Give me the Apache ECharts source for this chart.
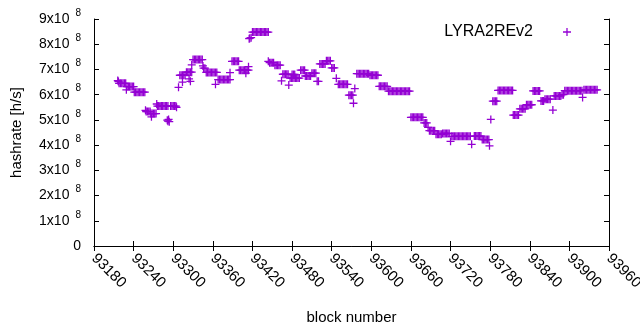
<!DOCTYPE html>
<html>
<head>
  <meta charset="UTF-8">
  <script src="https://cdn.jsdelivr.net/npm/echarts@6/dist/echarts.min.js"></script>
  <style>
    html, body { margin: 0; padding: 0; background: #fff; }
    #main { width: 640px; height: 330px; }
  </style>
</head>
<body>
  <div id="main"></div>
  <script>
    // axis ticks
    var blockTicks = { min: 93180, max: 93960, step: 60 };
    var rateTicks = [0, 1, 2, 3, 4, 5, 6, 7, 8, 9];   // in units of 10^8 h/s

    var seriesName = 'LYRA2REv2';

    // [block number, hashrate in 10^8 h/s]
    var samples = [
      [93216, 6.56], [93217, 6.52],
      [93218, 6.45], [93220, 6.45], [93222, 6.45], [93224, 6.45], [93226, 6.45], [93228, 6.45],
      [93229, 6.19],
      [93230, 6.32], [93232, 6.32], [93234, 6.32], [93236, 6.32], [93238, 6.32], [93240, 6.32],
      [93241, 6.1], [93243, 6.1], [93245, 6.1], [93247, 6.1], [93249, 6.1], [93251, 6.1], [93253, 6.1], [93255, 6.1], [93257, 6.1],
      [93258, 5.38], [93259, 5.33], [93261, 5.33], [93263, 5.33], [93265, 5.33],
      [93266, 5.25], [93267, 5.12], [93268, 5.25], [93270, 5.25], [93272, 5.25], [93274, 5.25],
      [93275, 5.63], [93276, 5.55], [93278, 5.55], [93280, 5.55], [93282, 5.55], [93284, 5.55], [93286, 5.55], [93288, 5.55], [93290, 5.55], [93292, 5.55],
      [93291, 4.99], [93292, 4.95], [93293, 5.02], [93294, 4.93],
      [93296, 5.55], [93298, 5.55], [93300, 5.55], [93302, 5.55], [93304, 5.55], [93305, 5.5],
      [93308, 6.29],
      [93310, 6.77], [93312, 6.77], [93314, 6.77], [93316, 6.77], [93318, 6.77], [93314, 6.5],
      [93320, 6.89], [93322, 6.89], [93324, 6.89], [93326, 6.89], [93328, 6.89],
      [93324, 6.63], [93326, 6.53], [93328, 7.18],
      [93330, 7.39], [93332, 7.39], [93334, 7.39], [93336, 7.39], [93338, 7.39], [93340, 7.39], [93342, 7.39], [93344, 7.39],
      [93345, 7.14], [93346, 7.05], [93348, 7.05],
      [93350, 6.88], [93352, 6.88], [93354, 6.88], [93356, 6.88], [93358, 6.88], [93360, 6.88], [93362, 6.88], [93364, 6.88], [93366, 6.88],
      [93364, 6.41],
      [93368, 6.6], [93370, 6.6], [93372, 6.6], [93374, 6.6], [93376, 6.6], [93378, 6.6], [93380, 6.6], [93382, 6.6], [93384, 6.6], [93386, 6.6],
      [93386, 6.87],
      [93389, 7.32], [93391, 7.32], [93393, 7.32], [93395, 7.32], [93397, 7.32], [93399, 7.32],
      [93400, 6.97], [93402, 6.97], [93404, 6.97], [93406, 6.97], [93408, 6.97], [93410, 6.97], [93412, 6.97], [93414, 6.97],
      [93410, 6.85], [93414, 7.11],
      [93415, 8.22], [93416, 8.24], [93418, 8.26],
      [93420, 8.48], [93422, 8.48], [93424, 8.48], [93426, 8.48], [93428, 8.48], [93430, 8.48], [93432, 8.48], [93434, 8.48], [93436, 8.48], [93438, 8.48], [93440, 8.48], [93442, 8.48], [93444, 8.48],
      [93444, 7.32], [93446, 7.27], [93448, 7.27], [93450, 7.27], [93452, 7.27],
      [93454, 7.17], [93456, 7.17], [93458, 7.17], [93460, 7.17], [93462, 7.17],
      [93464, 6.55],
      [93466, 6.81], [93468, 6.81], [93470, 6.81], [93472, 6.81], [93474, 6.81], [93475, 6.38],
      [93477, 6.66], [93479, 6.66], [93481, 6.66], [93483, 6.66], [93485, 6.66], [93487, 6.66], [93489, 6.66], [93491, 6.66],
      [93480, 6.8], [93482, 6.8], [93484, 6.8],
      [93493, 6.97], [93495, 6.97], [93497, 6.97], [93499, 6.97],
      [93500, 6.74], [93502, 6.74], [93504, 6.74], [93506, 6.74], [93508, 6.74],
      [93510, 6.85], [93512, 6.85], [93514, 6.85], [93516, 6.85],
      [93518, 6.53], [93520, 6.53],
      [93522, 7.22], [93524, 7.22], [93526, 7.22], [93528, 7.22], [93530, 7.22],
      [93532, 7.34], [93534, 7.34], [93536, 7.34], [93538, 7.34],
      [93540, 7.06], [93542, 7.06], [93544, 7.06],
      [93547, 6.65],
      [93550, 6.41], [93552, 6.41], [93554, 6.41], [93556, 6.41], [93558, 6.41], [93560, 6.41], [93562, 6.41], [93564, 6.41],
      [93566, 5.98], [93568, 5.98], [93570, 5.98], [93572, 5.98],
      [93573, 5.66], [93575, 6.24],
      [93578, 6.83], [93580, 6.83], [93582, 6.83], [93584, 6.83], [93586, 6.83], [93588, 6.83], [93590, 6.83], [93592, 6.83], [93594, 6.83], [93596, 6.83],
      [93598, 6.77], [93600, 6.77], [93602, 6.77], [93604, 6.77], [93606, 6.77], [93608, 6.77], [93610, 6.77],
      [93612, 6.33], [93614, 6.33], [93616, 6.33], [93618, 6.33], [93620, 6.33], [93622, 6.33], [93624, 6.33],
      [93626, 6.14], [93628, 6.14], [93630, 6.14], [93632, 6.14], [93634, 6.14], [93636, 6.14], [93638, 6.14], [93640, 6.14], [93642, 6.14],
      [93644, 6.14], [93646, 6.14], [93648, 6.14], [93650, 6.14], [93652, 6.14], [93654, 6.14], [93656, 6.14], [93658, 6.14],
      [93660, 5.1], [93662, 5.1], [93664, 5.1], [93666, 5.1], [93668, 5.1], [93670, 5.1], [93672, 5.1], [93674, 5.1], [93676, 5.1], [93678, 5.1],
      [93680, 4.88], [93682, 4.88], [93684, 4.88],
      [93686, 4.7], [93688, 4.57], [93690, 4.57], [93692, 4.57], [93694, 4.57], [93696, 4.57],
      [93698, 4.43], [93700, 4.43], [93702, 4.43], [93704, 4.43], [93706, 4.43],
      [93708, 4.46], [93710, 4.46], [93712, 4.46], [93714, 4.46], [93716, 4.46], [93718, 4.46],
      [93720, 4.15],
      [93722, 4.35], [93724, 4.35], [93726, 4.35], [93728, 4.35], [93730, 4.35], [93732, 4.35], [93734, 4.35], [93736, 4.35],
      [93738, 4.35], [93740, 4.35], [93742, 4.35], [93744, 4.35], [93746, 4.35], [93748, 4.35], [93750, 4.35],
      [93752, 4.03],
      [93756, 4.36], [93758, 4.36], [93760, 4.36], [93762, 4.36], [93764, 4.36], [93766, 4.36],
      [93768, 4.22], [93770, 4.22], [93772, 4.22], [93774, 4.22], [93776, 4.22], [93778, 4.22],
      [93779, 3.97], [93781, 5.02],
      [93784, 5.74], [93786, 5.74], [93788, 5.74], [93790, 5.74],
      [93792, 6.17], [93794, 6.17], [93796, 6.17], [93798, 6.17], [93800, 6.17], [93802, 6.17], [93804, 6.17], [93806, 6.17], [93808, 6.17], [93810, 6.17], [93812, 6.17], [93814, 6.17],
      [93815, 5.19], [93817, 5.19], [93819, 5.19], [93821, 5.19], [93823, 5.19],
      [93825, 5.44], [93827, 5.44], [93829, 5.44], [93831, 5.44], [93833, 5.44],
      [93835, 5.6], [93837, 5.6], [93839, 5.6], [93841, 5.6], [93843, 5.6],
      [93845, 6.15], [93847, 6.15], [93849, 6.15], [93851, 6.15], [93853, 6.15], [93855, 6.15],
      [93857, 5.75], [93859, 5.75], [93861, 5.75],
      [93863, 5.82], [93865, 5.82], [93867, 5.82], [93869, 5.82], [93871, 5.82],
      [93875, 5.39],
      [93877, 5.95], [93879, 5.95], [93881, 5.95], [93883, 5.95], [93885, 5.95], [93887, 5.95], [93889, 6.0], [93891, 6.0],
      [93893, 6.16], [93895, 6.16], [93897, 6.16], [93899, 6.16], [93901, 6.16], [93903, 6.16], [93905, 6.16],
      [93907, 6.16], [93909, 6.16], [93911, 6.16], [93913, 6.16], [93915, 6.16], [93917, 6.16], [93919, 6.16],
      [93920, 5.89],
      [93922, 6.19], [93924, 6.19], [93926, 6.19], [93928, 6.19], [93930, 6.19], [93932, 6.19], [93934, 6.19], [93936, 6.19], [93938, 6.19], [93940, 6.19],
      [93942, 6.19]
    ];

    var purple = '#9400d3';
    var plus = 'path://M4.2,0 H5.8 V4.2 H10 V5.8 H5.8 V10 H4.2 V5.8 H0 V4.2 H4.2 Z';
    var font = 'Liberation Sans';

    var chart = echarts.init(document.getElementById('main'), null, { renderer: 'canvas' });

    var xBase = {
      type: 'value',
      min: blockTicks.min,
      max: blockTicks.max,
      interval: blockTicks.step,
      axisLine: { lineStyle: { color: '#000', width: 1 } },
      axisTick: { inside: true, length: 5, lineStyle: { color: '#000' } },
      splitLine: { show: false }
    };
    var yBase = {
      type: 'value',
      min: rateTicks[0],
      max: rateTicks[rateTicks.length - 1],
      interval: 1,
      axisLine: { show: true, lineStyle: { color: '#000', width: 1 } },
      axisTick: { show: true, inside: true, length: 5, lineStyle: { color: '#000' } },
      splitLine: { show: false }
    };

    chart.setOption({
      animation: false,
      textStyle: { fontFamily: font },
      grid: { left: 94, right: 31, top: 19, bottom: 84, containLabel: false, outerBoundsMode: 'none' },
      legend: {
        data: [{ name: seriesName, icon: plus }],
        align: 'right',
        right: 64,
        top: 19,
        itemWidth: 58,
        itemHeight: 8,
        symbolKeepAspect: true,
        textStyle: { fontFamily: font, fontSize: 16, color: '#000' }
      },
      xAxis: [
        Object.assign({}, xBase, {
          position: 'bottom',
          name: 'block number',
          nameLocation: 'middle',
          nameGap: 64,
          nameTextStyle: { fontFamily: font, fontSize: 15, color: '#000' },
          axisLabel: {
            rotate: -45,
            margin: 10,
            fontSize: 15,
            color: '#000',
            showMinLabel: true,
            showMaxLabel: true,
            formatter: function (v) { return String(v); }
          }
        }),
        Object.assign({}, xBase, { position: 'top', axisLabel: { show: false } })
      ],
      yAxis: [
        Object.assign({}, yBase, {
          position: 'left',
          name: 'hashrate [h/s]',
          nameLocation: 'middle',
          nameGap: 70,
          nameTextStyle: { fontFamily: font, fontSize: 15, color: '#000' },
          axisLabel: {
            margin: 13,
            color: '#000',
            formatter: function (v) {
              return v === 0 ? '{m|0}' : '{m|' + v + 'x10}{e|8}';
            },
            rich: {
              m: { fontFamily: font, fontSize: 14, lineHeight: 22, color: '#000' },
              e: { fontFamily: font, fontSize: 10, lineHeight: 22, verticalAlign: 'top', padding: [0, 0, 0, 6], color: '#000' }
            }
          }
        }),
        Object.assign({}, yBase, { position: 'right', axisLabel: { show: false } })
      ],
      series: [{
        name: seriesName,
        type: 'scatter',
        xAxisIndex: 0,
        yAxisIndex: 0,
        symbol: plus,
        symbolSize: 8,
        symbolKeepAspect: true,
        itemStyle: { color: purple, opacity: 1 },
        emphasis: { disabled: true },
        data: samples
      }]
    });
  </script>
</body>
</html>
